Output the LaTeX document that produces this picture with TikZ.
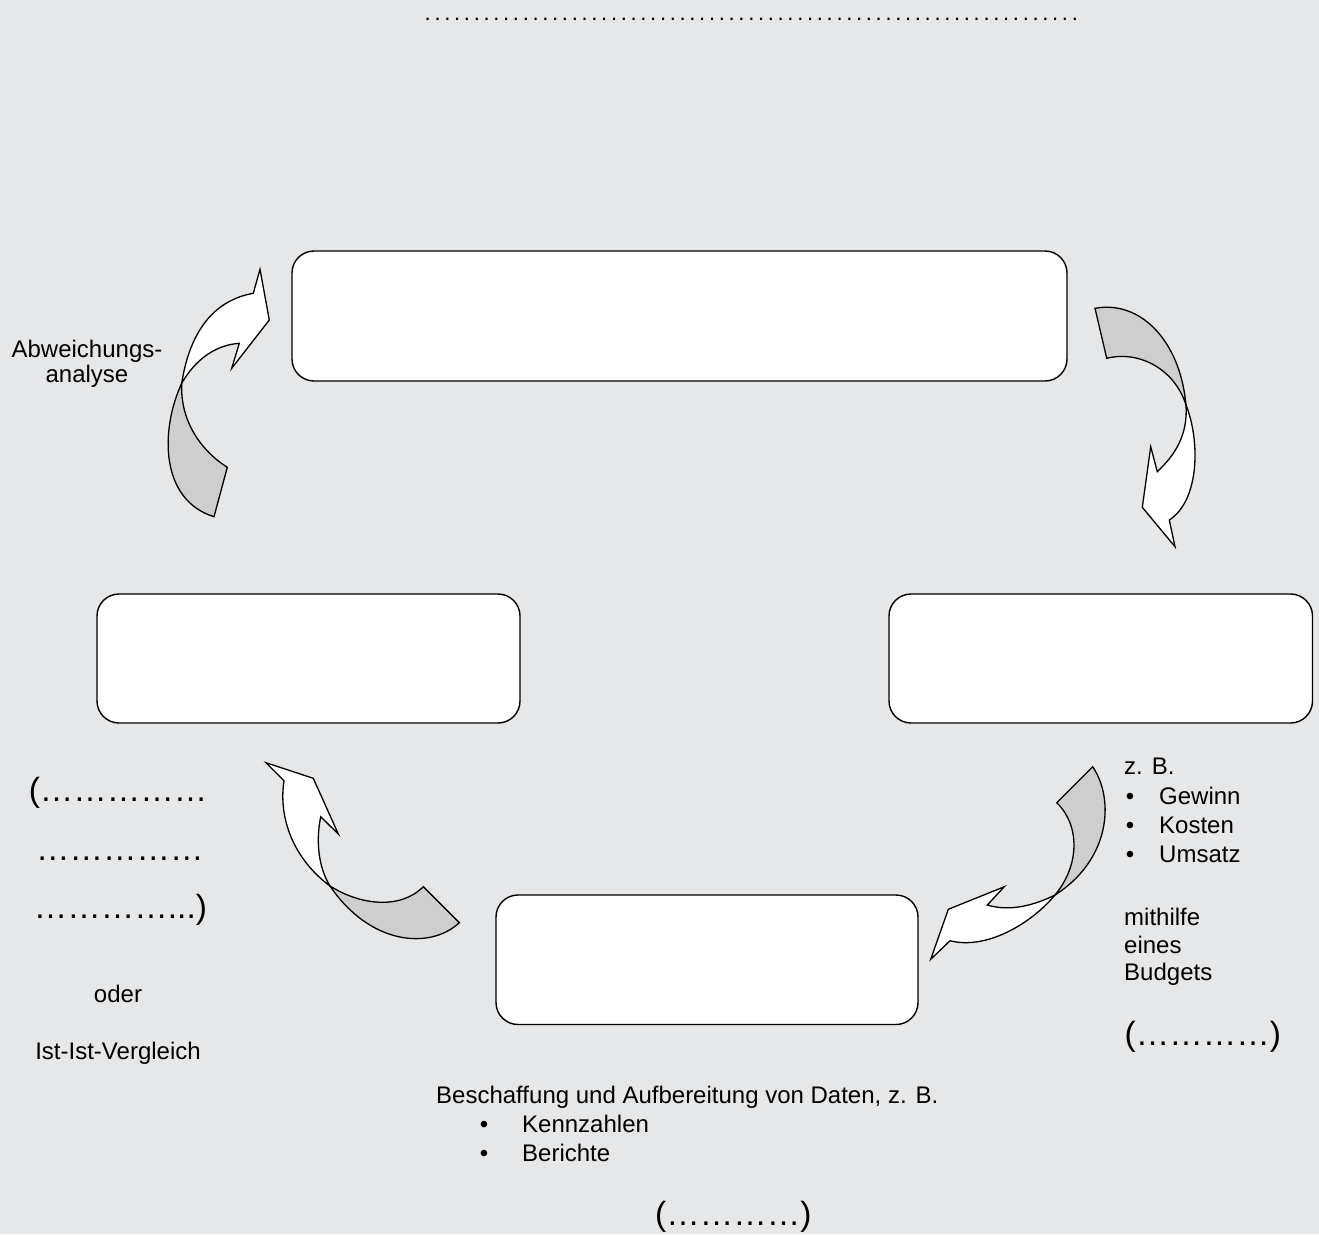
\documentclass[tikz,border=0pt]{standalone}
\usepackage{fontspec}
\setmainfont{Liberation Sans}
\definecolor{bgc}{HTML}{E6E7E9}
\definecolor{ribbon}{HTML}{CECECE}
\begin{document}
\begin{tikzpicture}[x=1pt,y=-1pt,
  box/.style={draw=black,line width=1.4pt,fill=white,rounded corners=22pt,inner sep=0pt},
  front/.style={draw=black,line width=1.3pt,fill=white,line join=miter},
  back/.style={draw=black,line width=1.3pt,fill=ribbon,line join=miter},
  txt/.style={inner sep=0pt,anchor=base west,font=\fontsize{24}{29}\selectfont},
  ctxt/.style={inner sep=0pt,anchor=base,font=\fontsize{24}{29}\selectfont},
  big/.style={inner sep=0pt,anchor=base west,font=\fontsize{33.5}{38}\selectfont}]
\useasboundingbox (0,0) rectangle (1319,1234);
\fill[bgc] (0,0) rectangle (1319,1234);

% top dotted line
\node[inner sep=0pt,anchor=base west,font=\fontsize{22}{24}\selectfont] (title) at (422,20)
  {\makebox[658pt]{\cleaders\hbox to 9.8pt{\hss.\hss}\hfill}};

% boxes
\node[box,minimum width=775pt,minimum height=130pt] (plan) at (679.5,316) {};
\node[box,minimum width=423pt,minimum height=129pt] (kontr) at (308.5,658.5) {};
\node[box,minimum width=423.5pt,minimum height=129pt] (vorg) at (1100.75,658.5) {};
\node[box,minimum width=422pt,minimum height=129.5pt] (info) at (707,959.75) {};

% arrow top-left
\draw[back] (181.7,383.3) .. controls (160,430) and (160,500) .. (214,516.7)
  -- (227.3,467.3) .. controls (200,450) and (180,420) .. (181.7,383.3) -- cycle;
\draw[front] (181.7,383.3) .. controls (190,330) and (215,300) .. (253.3,293.3)
  -- (260,269.3) -- (269.3,320) -- (231.7,368.3) -- (239.3,343.3)
  .. controls (215,345) and (195,360) .. (181.7,383.3) -- cycle;

% arrow top-right
\draw[back] (1095,308.3) .. controls (1140,300) and (1180,340) .. (1186,405)
  .. controls (1175,370) and (1140,350) .. (1106.7,358.3) -- cycle;
\draw[front] (1186,405) .. controls (1200,440) and (1200,500) .. (1169.3,520)
  -- (1175,546.7) -- (1142.3,507.3) -- (1150.7,446.7) -- (1157.3,471.7)
  .. controls (1175,455) and (1188,435) .. (1186,405) -- cycle;

% arrow bottom-left
\draw[back] (330,886) .. controls (360,905) and (400,910) .. (423.3,886.7)
  -- (459.3,922.7) .. controls (430,950) and (370,945) .. (330,886) -- cycle;
\draw[front] (330,886) .. controls (295,860) and (278,820) .. (284,780.7)
  -- (266,762.7) -- (313.3,778.3) -- (338.3,834) -- (320.7,816.7)
  .. controls (315,845) and (320,870) .. (330,886) -- cycle;

% arrow bottom-right
\draw[back] (1092.7,766.7) .. controls (1115,800) and (1110,860) .. (1055,895)
  .. controls (1080,865) and (1080,825) .. (1056.7,802.7) -- cycle;
\draw[front] (1055,895) .. controls (1030,925) and (985,950) .. (950,940.7)
  -- (930.7,959.3) -- (948.3,909.3) -- (1004.3,886.7) -- (987.3,905)
  .. controls (1010,912) and (1035,905) .. (1055,895) -- cycle;

% left texts
\node[ctxt] (abw1) at (87,357) {Abweichungs-};
\node[ctxt] (abw2) at (87,382) {analyse};
\node[big] (l1) at (28.6,801) {(……………};
\node[big] (l2) at (35.8,860) {……………};
\node[big] (l3) at (33.7,918) {…………...)};
\node[ctxt] (oder) at (118,1002) {oder};
\node[ctxt] (ist) at (118,1059) {Ist-Ist-Vergleich};

% right texts
\node[txt] (zb) at (1124,774) {z. B.};
\node[ctxt] (b1) at (1130,804) {•};
\node[ctxt] (b2) at (1130,833) {•};
\node[ctxt] (b3) at (1130,862) {•};
\node[txt] (gew) at (1159,804) {Gewinn};
\node[txt] (kos) at (1159,833) {Kosten};
\node[txt] (ums) at (1159,862) {Umsatz};
\node[txt] (mit) at (1124,925) {mithilfe};
\node[txt] (ein) at (1124,953) {eines};
\node[txt] (bud) at (1124,980) {Budgets};
\node[big] (r1) at (1124.5,1045) {(…………)};

% bottom texts
\node[txt] (besch) at (436,1103) {Beschaffung und Aufbereitung von Daten, z. B.};
\node[ctxt] (b4) at (484,1132) {•};
\node[ctxt] (b5) at (484,1161) {•};
\node[txt] (kenn) at (522,1132) {Kennzahlen};
\node[txt] (ber) at (522,1161) {Berichte};
\node[big] (bot) at (655,1225) {(…………)};
\end{tikzpicture}
\end{document}
